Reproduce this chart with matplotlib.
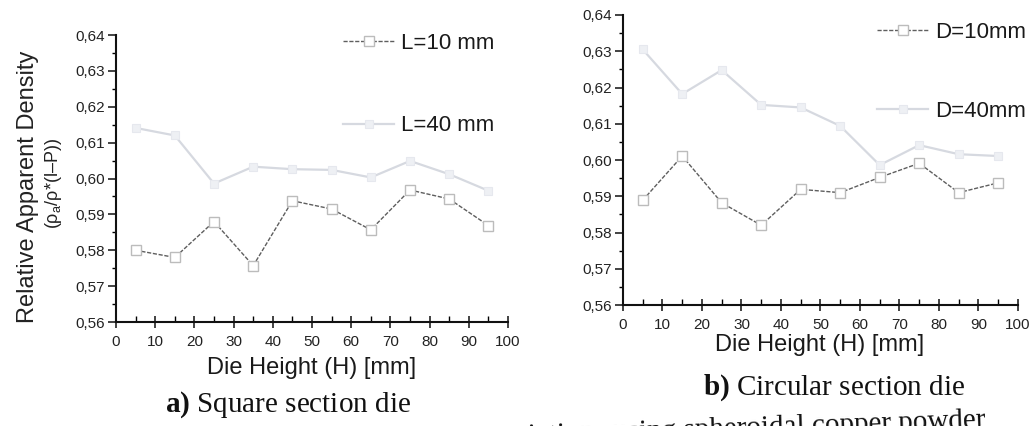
import matplotlib
matplotlib.use("Agg")
import matplotlib.pyplot as plt
from matplotlib.ticker import MultipleLocator, FuncFormatter

plt.rcParams['font.family'] = ['Liberation Sans', 'DejaVu Sans']
plt.rcParams['mathtext.fontset'] = 'custom'
plt.rcParams['mathtext.rm'] = 'Liberation Serif'
plt.rcParams['mathtext.bf'] = 'Liberation Serif:bold'

# ---- data ----
die_height = [5, 15, 25, 35, 45, 55, 65, 75, 85, 95]

square_L10 = [0.5800, 0.5780, 0.5880, 0.5757, 0.5938, 0.5915, 0.5857, 0.5968, 0.5943, 0.5869]
square_L40 = [0.6141, 0.6120, 0.5986, 0.6033, 0.6026, 0.6024, 0.6003, 0.6049, 0.6012, 0.5966]

circ_D10 = [0.5889, 0.6011, 0.5882, 0.5820, 0.5919, 0.5910, 0.5952, 0.5991, 0.5910, 0.5937]
circ_D40 = [0.6305, 0.6182, 0.6248, 0.6152, 0.6145, 0.6094, 0.5986, 0.6041, 0.6016, 0.6011]

labels_left = ["L=10 mm", "L=40 mm"]
labels_right = ["D=10mm", "D=40mm"]

xlabel = "Die Height (H) [mm]"
ylabel1 = "Relative Apparent Density"
ylabel2 = "(ρ$_\\mathregular{a}$/ρ*(l–P))"
cap_a = r"$\mathbf{a)}$ Square section die"
cap_b = r"$\mathbf{b)}$ Circular section die"
cap_bottom = "density variations using spheroidal copper powder"

fig = plt.figure(figsize=(10.35, 4.26), dpi=100)
fig.patch.set_facecolor('white')

ax1 = fig.add_axes([0.1121, 0.2441, 0.3787, 0.6737])
ax2 = fig.add_axes([0.6019, 0.2840, 0.3816, 0.6808])

dark_kw = dict(color='#5e5e5e', lw=1.0, ls=(0, (3, 1.2)), marker='s', ms=6.5,
               mfc='white', mec='#bcbcbc', mew=1.0)
light_kw = dict(color='#d6d9e0', lw=1.6, ls='-', marker='s', ms=6.0,
                mfc='#eef0f4', mec='#e6e8ee', mew=0.8)

def fmt(v, pos):
    return f"{v:.2f}".replace('.', ',')

for ax, s1, s2, labs in [(ax1, square_L10, square_L40, labels_left),
                         (ax2, circ_D10, circ_D40, labels_right)]:
    ax.plot(die_height, s1, label=labs[0], **dark_kw)
    ax.plot(die_height, s2, label=labs[1], **light_kw)
    ax.set_xlim(0, 100)
    ax.set_ylim(0.56, 0.64)
    ax.xaxis.set_major_locator(MultipleLocator(10))
    ax.xaxis.set_minor_locator(MultipleLocator(5))
    ax.yaxis.set_major_locator(MultipleLocator(0.01))
    ax.yaxis.set_minor_locator(MultipleLocator(0.005))
    ax.yaxis.set_major_formatter(FuncFormatter(fmt))
    for sp in ['top', 'right']:
        ax.spines[sp].set_visible(False)
    for sp in ['left', 'bottom']:
        ax.spines[sp].set_linewidth(1.5)
        ax.spines[sp].set_color('#111111')
    ax.tick_params(axis='y', which='major', direction='out', length=6, width=1.2,
                   labelsize=11, pad=2, colors='#222222')
    ax.tick_params(axis='y', which='minor', direction='out', length=3, width=1.0)
    ax.tick_params(axis='x', which='major', direction='inout', length=8, width=1.2,
                   labelsize=11, pad=5, colors='#222222')
    ax.tick_params(axis='x', which='minor', direction='in', length=4, width=1.0)
    ax.patch.set_alpha(0)

leg1 = ax1.legend(loc='upper left', bbox_to_anchor=(0.3314, 0.922),
                  bbox_transform=fig.transFigure, frameon=False, fontsize=16,
                  handlelength=2.3, handletextpad=0.3, labelspacing=2.75,
                  borderpad=0, borderaxespad=0)
leg2 = ax2.legend(loc='upper left', bbox_to_anchor=(0.8473, 0.948),
                  bbox_transform=fig.transFigure, frameon=False, fontsize=16,
                  handlelength=2.3, handletextpad=0.3, labelspacing=2.6,
                  borderpad=0, borderaxespad=0)
for leg in (leg1, leg2):
    for t in leg.get_texts():
        t.set_color('#1a1a1a')

fig.text(0.027, 0.561, ylabel1, rotation=90, ha='center', va='center',
         fontsize=17, color='#222222')
fig.text(0.052, 0.570, ylabel2, rotation=90, ha='center', va='center',
         fontsize=13, color='#222222')

fig.text(0.3014, 0.1362, xlabel, ha='center', va='center', fontsize=17, color='#1a1a1a')
fig.text(0.7923, 0.190, xlabel, ha='center', va='center', fontsize=17, color='#1a1a1a')

fig.text(0.2783, 0.0493, cap_a, ha='center', va='center', fontsize=21,
         family='Liberation Serif', color='#111111')
fig.text(0.6792, 0.0892, cap_b, ha='left', va='center', fontsize=21,
         family='Liberation Serif', color='#111111')
fig.text(0.952, -0.004, cap_bottom, ha='right', va='baseline', fontsize=21,
         family='Liberation Serif', color='#111111', rotation=2,
         rotation_mode='anchor')

fig.savefig('out.png', dpi=100, facecolor='white')
